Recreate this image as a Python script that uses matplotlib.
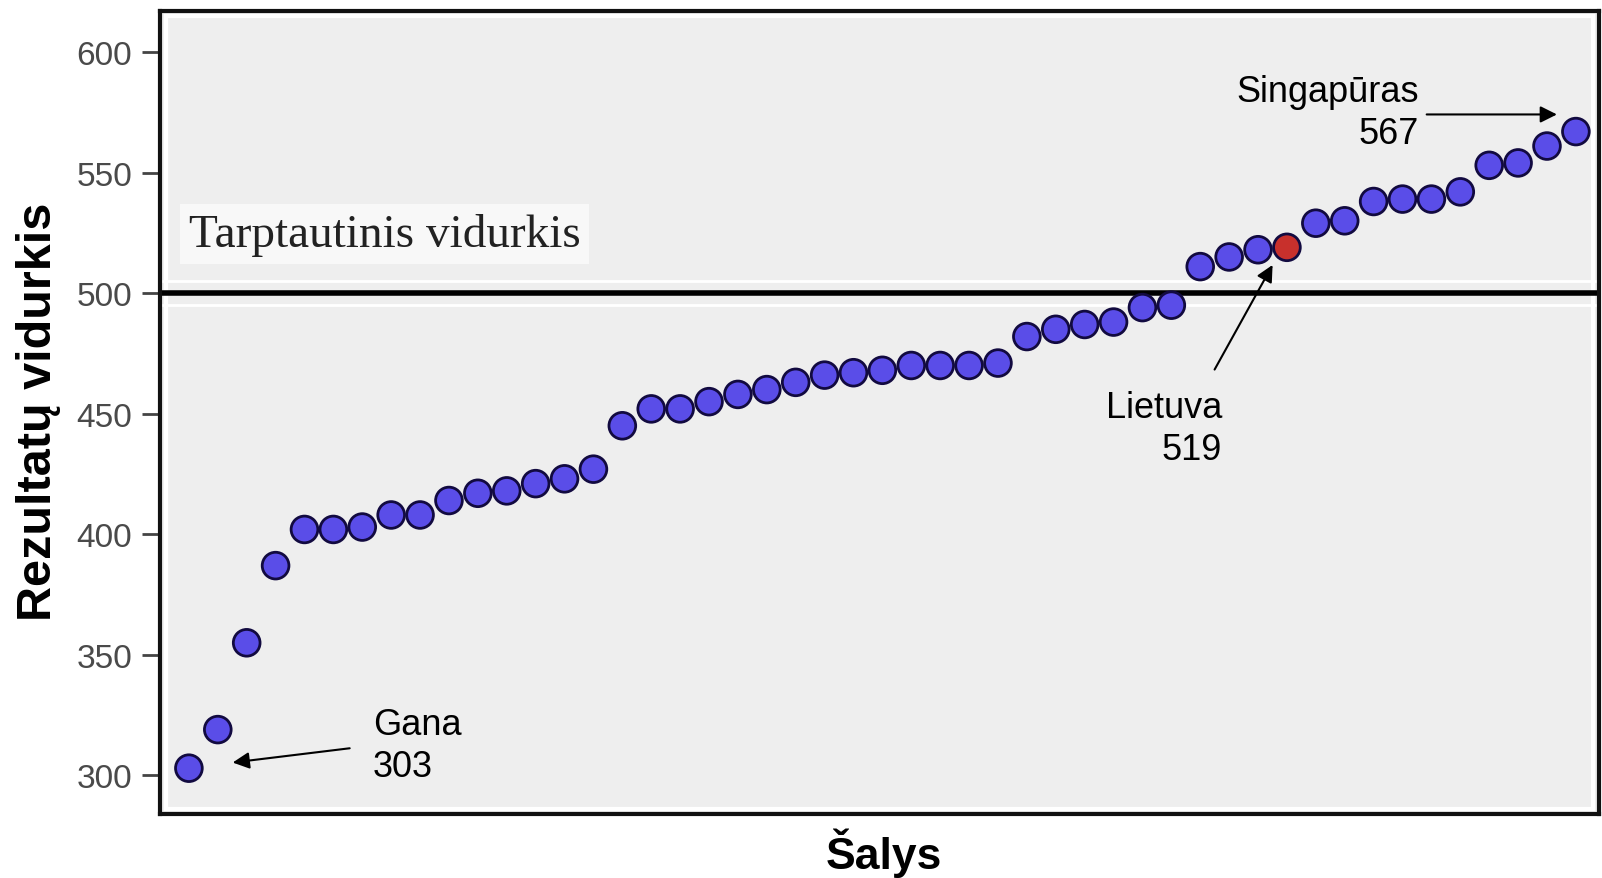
import matplotlib.pyplot as plt
from matplotlib.patches import Rectangle

# sorted country averages
scores = [303, 319, 355, 387, 402, 402, 403, 408, 408, 414, 417, 418, 421, 423, 427,
          445, 452, 452, 455, 458, 460, 463, 466, 467, 468, 470, 470, 470, 471,
          482, 485, 487, 488, 494, 495, 511, 515, 518, 519, 529, 530, 538, 539,
          539, 542, 553, 554, 561, 567]
highlight = 38  # Lietuva
yticks = [300, 350, 400, 450, 500, 550, 600]
intl_avg = 500

x = list(range(1, len(scores) + 1))
colors = ['#c8302c' if i == highlight else '#5a4de8' for i in range(len(scores))]

fig = plt.figure(figsize=(16.02, 8.79), dpi=100)
ax = fig.add_axes([160/1602, 1-815/879, (1599-160)/1602, (815-12)/879])
ax.set_facecolor('#eeeeee')
ax.set_xlim(0, 49.8)
ax.set_ylim(284, 617)

# inner white frame
ax.add_patch(Rectangle((0.004, 0.006), 0.992, 0.988, transform=ax.transAxes,
                       fill=False, edgecolor='white', lw=3, zorder=1))

ax.axhline(intl_avg, color='black', lw=4, zorder=2)
ax.axhline(intl_avg + 5, color='white', lw=2, zorder=1.5)
ax.axhline(intl_avg - 5, color='white', lw=2, zorder=1.5)

ax.scatter(x, scores, s=370, c=colors, edgecolors='#120a40', linewidths=2, zorder=3)

ax.set_xticks([])
ax.set_yticks(yticks)
ax.tick_params(axis='y', length=13, width=2, color='#444444', pad=7,
               labelsize=24, labelcolor='#4a4a4a')
for lab in ax.get_yticklabels():
    lab.set_family('Liberation Sans')
for s in ax.spines.values():
    s.set_linewidth(3)
    s.set_color('#111111')

ax.text(1.0, 524.5, 'Tarptautinis vidurkis', family='Liberation Serif', fontsize=34,
        va='center', ha='left', color='#222222', zorder=4,
        bbox=dict(facecolor='#f8f8f8', edgecolor='none', pad=6))

afont = dict(family='Liberation Sans', fontsize=26, linespacing=1.25)
ax.annotate('', xy=(48.44, 574.1), xytext=(43.74, 574.1),
            arrowprops=dict(arrowstyle='-|>', color='black', lw=1.5, mutation_scale=25))
ax.text(43.57, 575, 'Singapūras\n567', ha='right', va='center', multialignment='right', **afont)

ax.annotate('', xy=(38.55, 512.7), xytext=(36.45, 467.3),
            arrowprops=dict(arrowstyle='-|>', color='black', lw=1.5, mutation_scale=25))
ax.text(36.76, 444.0, 'Lietuva\n519', ha='right', va='center', multialignment='right', **afont)

ax.annotate('', xy=(2.42, 305.2), xytext=(6.66, 311.4),
            arrowprops=dict(arrowstyle='-|>', color='black', lw=1.5, mutation_scale=25))
ax.text(7.37, 312.3, 'Gana\n303', ha='left', va='center', multialignment='left', **afont)

fig.text(39/1602, 1-412/879, 'Rezultatų vidurkis', rotation=90, ha='center', va='center',
         family='Liberation Sans', fontweight='bold', fontsize=35)
fig.text(884/1602, 1-853/879, 'Šalys', ha='center', va='center',
         family='Liberation Sans', fontweight='bold', fontsize=32)

fig.savefig('out.png', dpi=100)
